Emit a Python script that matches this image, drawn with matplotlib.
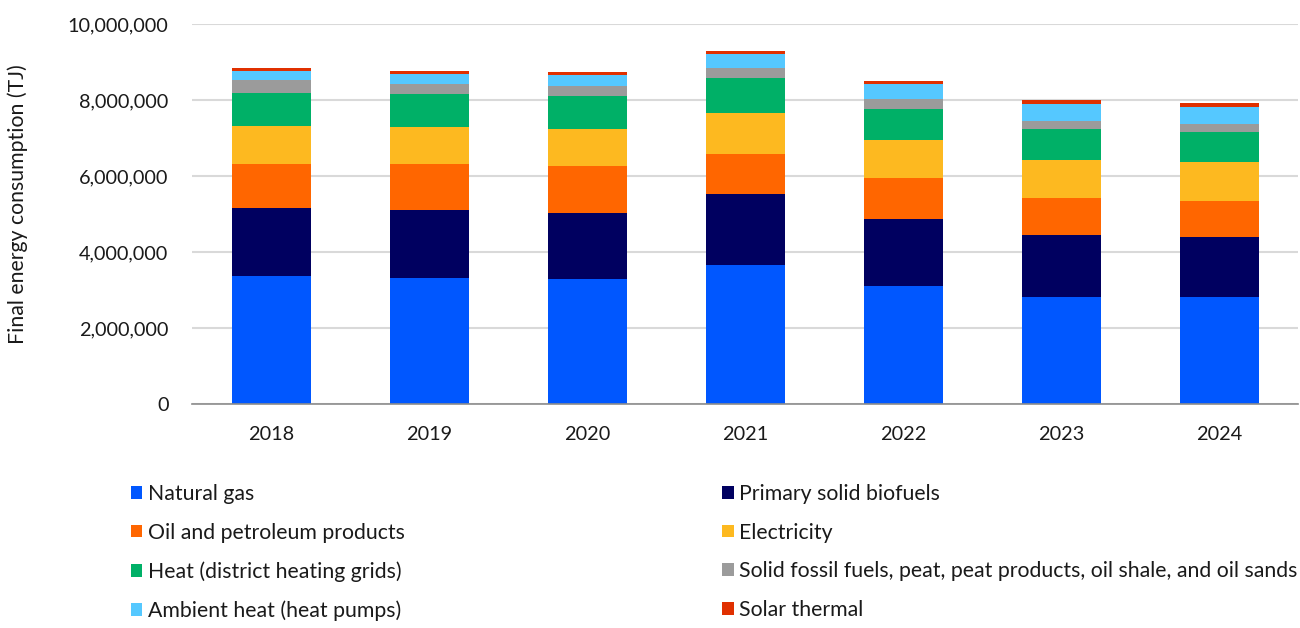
import matplotlib
matplotlib.use('Agg')
import matplotlib.pyplot as plt
import numpy as np
from matplotlib.ticker import FuncFormatter
from matplotlib.patches import Patch

plt.rcParams['font.family'] = ['Lato', 'DejaVu Sans']

years = ['2018', '2019', '2020', '2021', '2022', '2023', '2024']

# values in TJ
natural_gas = [3370000, 3320000, 3290000, 3670000, 3100000, 2810000, 2810000]
solid_biofuels = [1790000, 1800000, 1730000, 1870000, 1770000, 1640000, 1580000]
oil = [1170000, 1200000, 1250000, 1050000, 1080000, 980000, 970000]
electricity = [990000, 980000, 980000, 1070000, 1010000, 1000000, 1010000]
district_heat = [880000, 860000, 860000, 920000, 820000, 820000, 810000]
solid_fossil = [350000, 280000, 280000, 280000, 250000, 220000, 200000]
ambient_heat = [220000, 250000, 270000, 360000, 390000, 430000, 450000]
solar_thermal = [90000, 90000, 90000, 90000, 100000, 100000, 100000]

series = [
    ('Natural gas', natural_gas, '#0057ff'),
    ('Primary solid biofuels', solid_biofuels, '#000060'),
    ('Oil and petroleum products', oil, '#ff6600'),
    ('Electricity', electricity, '#fdb920'),
    ('Heat (district heating grids)', district_heat, '#00b067'),
    ('Solid fossil fuels, peat, peat products, oil shale, and oil sands', solid_fossil, '#9b9b9b'),
    ('Ambient heat (heat pumps)', ambient_heat, '#55c8ff'),
    ('Solar thermal', solar_thermal, '#e03000'),
]

fig = plt.figure(figsize=(13, 6.28), dpi=100)
ax = fig.add_axes([0.1477, 0.3567, 0.851, 0.6043])

x = np.arange(len(years))
bottom = np.zeros(len(years))
for name, vals, col in series:
    ax.bar(x, vals, 0.5, bottom=bottom, color=col, label=name, zorder=3)
    bottom += np.array(vals)

ax.set_xlim(-0.5, len(years) - 0.5)
ax.set_ylim(0, 10000000)
ax.set_yticks(np.arange(0, 10000001, 2000000))
ax.yaxis.set_major_formatter(FuncFormatter(lambda v, p: f'{int(v):,}'))
ax.set_xticks(x)
ax.set_xticklabels(years)
ax.tick_params(axis='both', length=0, labelsize=14.3, colors='#1a1a1a')
ax.tick_params(axis='x', pad=16)
ax.tick_params(axis='y', pad=17)
ax.grid(axis='y', color='#d9d9d9', linewidth=1.5, zorder=0)
for s in ['top', 'right', 'left']:
    ax.spines[s].set_visible(False)
ax.spines['bottom'].set_color('#8c8c8c')
ax.spines['bottom'].set_linewidth(1.2)
ax.spines['bottom'].set_zorder(4)

fig.text(0.014, 0.675, 'Final energy consumption (TJ)', rotation=90,
         va='center', ha='center', fontsize=15.3, color='#1a1a1a')

# legend in two columns, filled row by row
col1 = [series[i] for i in (0, 2, 4, 6)]
col2 = [series[i] for i in (1, 3, 5, 7)]
for items, xpos in [(col1, 0.094), (col2, 0.549)]:
    handles = [Patch(facecolor=c, label=n) for n, v, c in items]
    fig.legend(handles=handles, loc='upper left', bbox_to_anchor=(xpos, 0.243),
               frameon=False, fontsize=15.3, handlelength=0.55, handleheight=0.55,
               handletextpad=0.25, labelspacing=0.88, borderaxespad=0,
               labelcolor='#1a1a1a')

plt.savefig('out.png', dpi=100)
